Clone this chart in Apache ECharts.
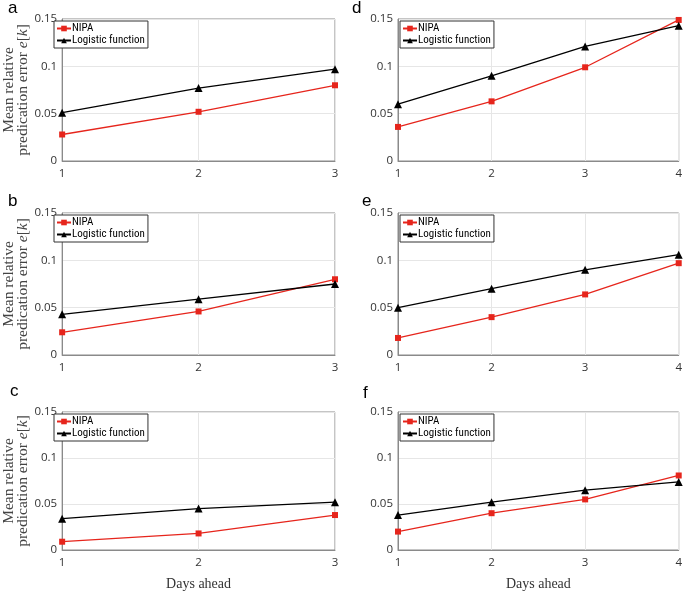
<!DOCTYPE html>
<html>
<head>
<meta charset="utf-8">
<script src="https://cdn.jsdelivr.net/npm/echarts@6/dist/echarts.min.js"></script>
<style>html,body{margin:0;padding:0;background:#fff}#c{width:685px;height:592px}</style>
</head>
<body>
<div id="c"></div>
<script>
// Data
const days3 = [1, 2, 3];
const days4 = [1, 2, 3, 4];
const yTicks = [0, 0.05, 0.1, 0.15];
const panelLetters = ['a', 'b', 'c', 'd', 'e', 'f'];
const seriesNames = ['NIPA', 'Logistic function'];

const nipaA = [0.028, 0.052, 0.080];
const logA  = [0.051, 0.077, 0.097];
const nipaB = [0.024, 0.046, 0.080];
const logB  = [0.043, 0.059, 0.075];
const nipaC = [0.009, 0.018, 0.038];
const logC  = [0.034, 0.045, 0.052];
const nipaD = [0.036, 0.063, 0.099, 0.149];
const logD  = [0.060, 0.090, 0.121, 0.143];
const nipaE = [0.018, 0.040, 0.064, 0.097];
const logE  = [0.050, 0.070, 0.090, 0.106];
const nipaF = [0.020, 0.040, 0.055, 0.081];
const logF  = [0.038, 0.052, 0.065, 0.074];

const panels = [
  {days: days3, nipa: nipaA, log: logA},
  {days: days3, nipa: nipaB, log: logB},
  {days: days3, nipa: nipaC, log: logC},
  {days: days4, nipa: nipaD, log: logD},
  {days: days4, nipa: nipaE, log: logE},
  {days: days4, nipa: nipaF, log: logF}
];

// Layout
const lefts = [52, 398];
const widths = [283, 282];
const tops = [19, 213, 412];
const H = 142;
const letterPos = [[8, 0], [8, 193], [10, 383], [352, 0], [362, 193], [363, 385]];

const RED = '#e6251c';
const BLACK = '#000';

const grids = [], xAxes = [], yAxes = [], series = [], legends = [], titles = [];
panels.forEach((p, i) => {
  const col = Math.floor(i / 3), row = i % 3;
  grids.push({left: lefts[col], top: tops[row], width: widths[col], height: H,
    show: true, borderColor: '#8a8a8a', borderWidth: 1, backgroundColor: 'transparent'});
  xAxes.push({
    type: 'value', gridIndex: i, min: p.days[0], max: p.days[p.days.length - 1], interval: 1,
    axisLine: {show: true, lineStyle: {color: '#8a8a8a'}},
    axisTick: {show: false},
    axisLabel: {color: '#333', fontSize: 11.5, fontFamily: 'Open Sans', margin: 7},
    splitLine: {show: true, lineStyle: {color: '#e6e6e6'}},
    name: row === 2 ? 'Days ahead' : '', nameLocation: 'middle', nameGap: 27,
    nameTextStyle: {fontFamily: 'Liberation Serif', fontSize: 14, color: '#333'}
  });
  yAxes.push({
    type: 'value', gridIndex: i, min: yTicks[0], max: yTicks[yTicks.length - 1], interval: 0.05,
    axisLine: {show: true, lineStyle: {color: '#8a8a8a'}},
    axisTick: {show: false},
    axisLabel: {color: '#333', fontSize: 11.5, fontFamily: 'Open Sans', margin: 5},
    splitLine: {show: true, lineStyle: {color: '#e6e6e6'}},
    name: col === 0 ? '{r|Mean relative}\n{r|predication error }{i|e}{r|[}{i|k}{r|]}' : '',
    nameLocation: 'middle', nameRotate: 90, nameGap: 30,
    nameTextStyle: {
      color: '#444', lineHeight: 14,
      rich: {
        r: {fontFamily: 'Liberation Serif', fontSize: 15.5, color: '#444', lineHeight: 13.5},
        i: {fontFamily: 'Liberation Serif', fontSize: 15.5, fontStyle: 'italic', color: '#444', lineHeight: 13.5}
      }
    }
  });
  series.push({
    name: seriesNames[0], type: 'line', xAxisIndex: i, yAxisIndex: i,
    data: p.days.map((d, k) => [d, p.nipa[k]]),
    symbol: 'rect', symbolSize: 6, clip: false,
    lineStyle: {color: RED, width: 1.3}, itemStyle: {color: RED},
    animation: false
  });
  series.push({
    name: seriesNames[1], type: 'line', xAxisIndex: i, yAxisIndex: i,
    data: p.days.map((d, k) => [d, p.log[k]]),
    symbol: 'triangle', symbolSize: 8, clip: false,
    lineStyle: {color: BLACK, width: 1.3}, itemStyle: {color: BLACK},
    animation: false
  });
  legends.push({
    data: seriesNames, orient: 'vertical',
    left: lefts[col] + 2, top: tops[row] + 2,
    itemWidth: 14, itemHeight: 7, itemGap: 1, padding: [2, 3, 2, 2],
    borderColor: '#333', borderWidth: 1, backgroundColor: '#fff', borderRadius: 0,
    textStyle: {fontSize: 11, fontFamily: "'Liberation Sans Narrow', 'Roboto Condensed', Roboto", color: '#000', padding: [0, 0, 0, -4]},
    selectedMode: false
  });
  titles.push({text: panelLetters[i], left: letterPos[i][0], top: letterPos[i][1], padding: 0,
    textStyle: {fontSize: 17, fontWeight: 'normal', color: '#000', fontFamily: 'Liberation Sans'}});
});

const chart = echarts.init(document.getElementById('c'), null, {renderer: 'canvas'});
chart.setOption({
  animation: false,
  backgroundColor: '#fff',
  title: titles,
  grid: grids,
  xAxis: xAxes,
  yAxis: yAxes,
  legend: legends,
  series: series
});
</script>
</body>
</html>
